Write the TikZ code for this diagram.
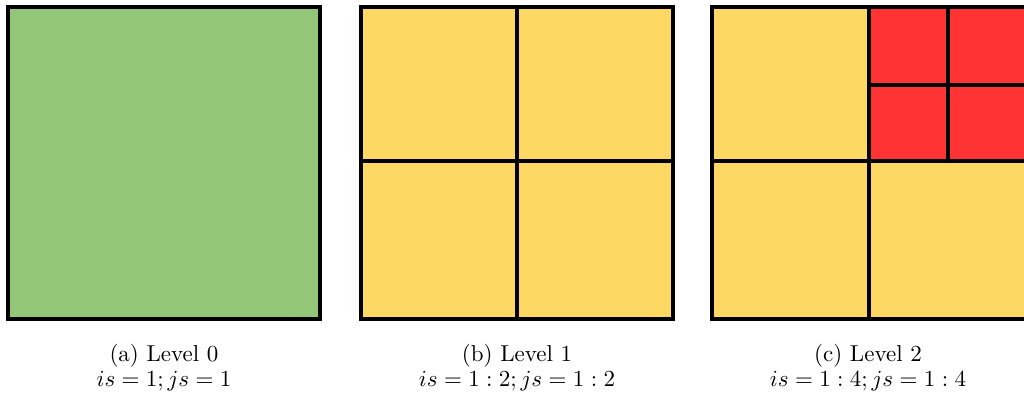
\documentclass[tikz,border=0pt]{standalone}
\begin{document}
\begin{tikzpicture}[x=0.4348pt,y=-0.4348pt,
  cell/.style={draw=black,line width=1.75pt},
  grid/.style={draw=black,line width=1.75pt},
  captext/.style={align=center,font=\fontsize{10}{11}\selectfont,inner sep=0pt,anchor=base}]
\definecolor{lvlgreen}{HTML}{93C677}
\definecolor{lvlyellow}{HTML}{FDD862}
\definecolor{lvlred}{HTML}{FF3333}
\useasboundingbox (0,0) rectangle (1024,397);
\begin{scope}
\clip (0,0) rectangle (1024,397);
% (a)
\filldraw[cell,fill=lvlgreen] (8,7) rectangle (320,319);
% (b)
\filldraw[cell,fill=lvlyellow] (361,7) rectangle (673,319);
\draw[grid] (517,7) -- (517,319);
\draw[grid] (361,161) -- (673,161);
% (c)
\filldraw[cell,fill=lvlyellow] (712,7) rectangle (1026,319);
\fill[lvlred] (869,7) rectangle (1026,161);
\draw[grid] (869,7) -- (869,319);
\draw[grid] (712,161) -- (1026,161);
\draw[grid] (948,7) -- (948,161);
\draw[grid] (869,85) -- (1026,85);
\draw[cell] (712,7) rectangle (1026,319);
\end{scope}
\node[captext] (capa1) at (164,361) {(a) Level 0};
\node[captext] (capa2) at (164,386) {$is=1; js=1$};
\node[captext] (capb1) at (517,361) {(b) Level 1};
\node[captext] (capb2) at (517,386) {$is=1:2; js=1:2$};
\node[captext] (capc1) at (868,361) {(c) Level 2};
\node[captext] (capc2) at (868,386) {$is=1:4; js=1:4$};
\end{tikzpicture}
\end{document}
